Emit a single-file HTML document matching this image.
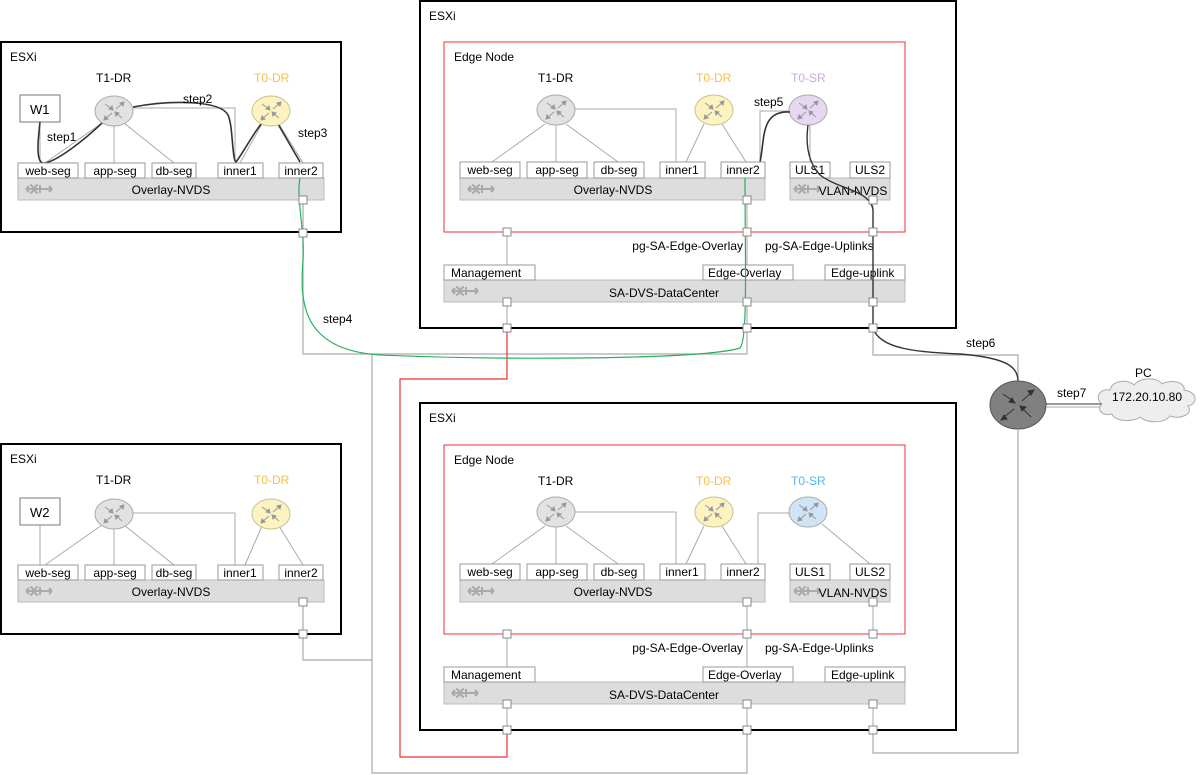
<!DOCTYPE html>
<html><head><meta charset="utf-8"><style>
html,body{margin:0;padding:0;background:#fff;}
svg{display:block;font-family:"Liberation Sans",sans-serif;font-size:12px;}
</style></head><body>
<svg width="1200" height="775" viewBox="0 0 1200 775" xmlns="http://www.w3.org/2000/svg">
<defs>
<g id="arr" stroke="#999" stroke-width="1" fill="#999">
<line x1="-9" y1="-7" x2="-2" y2="-2"/><polygon points="-1,-1 -5,-2 -2,-5"/>
<line x1="2" y1="-2" x2="9" y2="-8"/><polygon points="10,-9 6,-8 9,-5"/>
<line x1="2" y1="2" x2="8" y2="7"/><polygon points="1,1 5,2 2,5"/>
<line x1="-2" y1="2" x2="-9" y2="8"/><polygon points="-10,9 -6,8 -9,5"/>
</g>
<g id="rg"><ellipse rx="19" ry="15" fill="#e2e2e2" stroke="#aaa"/><use href="#arr"/></g>
<g id="ry"><ellipse rx="19" ry="15" fill="#fdf3c0" stroke="#c8c090"/><use href="#arr"/></g>
<g id="rp"><ellipse rx="19" ry="15" fill="#e6d8f2" stroke="#aaa"/><use href="#arr"/></g>
<g id="rb"><ellipse rx="19" ry="15" fill="#cfe4f7" stroke="#aaa"/><use href="#arr"/></g>
<g id="sw" stroke="#aaa" stroke-width="2" fill="none"><path d="M4,0 H18 M4,0 l3,-3 M4,0 l3,3 M8,-4 C12,-4 12,4 16,4 M8,4 C12,4 12,-4 16,-4 M18,-4 v8 M30,0 H16 M30,0 l-3,-3 M30,0 l-3,3"/></g>
<rect id="pt" x="-4" y="-4" width="8" height="8" fill="#fff" stroke="#888"/>
</defs>

<!-- ===== top-left ESXi ===== -->
<g>
<rect x="1" y="42" width="340" height="190" fill="#fff" stroke="#000" stroke-width="2"/>
<text x="10" y="61">ESXi</text>
<text x="96" y="82">T1-DR</text><text x="254" y="82" fill="#f5c242">T0-DR</text>
<rect x="20" y="95" width="40" height="27" fill="#fff" stroke="#777"/><text x="30" y="114" font-size="13">W1</text>
<g stroke="#aaa" fill="none">
<line x1="40" y1="122" x2="40" y2="163"/>
<path d="M102,123 L45,163 M114,126 V163 M124,123 L174,163 M133,108 H235 V163 M262,124 L240,163 M279,124 L303,163"/>
</g>
<g stroke="#333" stroke-width="1.6" fill="none">
<path d="M40,122 C38,140 35,165 45,163 C60,160 90,135 104,121"/>
<path d="M133,107 C170,100 220,100 228,115 C233,125 232,160 236,162 C245,150 255,130 263,122"/>
<path d="M278,124 L300,162"/>
</g>
<use href="#rg" x="114" y="111"/><use href="#ry" x="271" y="111"/>
<text x="183" y="103">step2</text><text x="47" y="141">step1</text><text x="298" y="137">step3</text>
<rect x="18" y="178" width="306" height="22" fill="#ddd" stroke="#bbb"/>
<use href="#sw" x="22" y="189"/>
<text x="171" y="194" text-anchor="middle">Overlay-NVDS</text>
<g fill="#fff" stroke="#999">
<rect x="18" y="163" width="60" height="15"/><rect x="85" y="163" width="60" height="15"/><rect x="152" y="163" width="44" height="15"/><rect x="218" y="163" width="45" height="15"/><rect x="279" y="163" width="44" height="15"/>
</g>
<text x="48" y="175" text-anchor="middle">web-seg</text><text x="115" y="175" text-anchor="middle">app-seg</text><text x="174" y="175" text-anchor="middle">db-seg</text><text x="240" y="175" text-anchor="middle">inner1</text><text x="301" y="175" text-anchor="middle">inner2</text>
</g>

<!-- ===== bottom-left ESXi ===== -->
<g>
<rect x="1" y="444" width="340" height="190" fill="#fff" stroke="#000" stroke-width="2"/>
<text x="10" y="463">ESXi</text>
<text x="96" y="484">T1-DR</text><text x="254" y="484" fill="#f5c242">T0-DR</text>
<rect x="20" y="498" width="40" height="27" fill="#fff" stroke="#777"/><text x="30" y="517" font-size="13">W2</text>
<g stroke="#aaa" fill="none">
<path d="M40,525 V565 M102,525 L45,565 M114,528 V565 M124,525 L174,565 M133,513 H235 V565 M262,526 L245,565 M279,526 L303,565"/>
</g>
<use href="#rg" x="114" y="514"/><use href="#ry" x="271" y="514"/>
<rect x="18" y="580" width="306" height="22" fill="#ddd" stroke="#bbb"/>
<use href="#sw" x="22" y="591"/>
<text x="171" y="596" text-anchor="middle">Overlay-NVDS</text>
<g fill="#fff" stroke="#999">
<rect x="18" y="565" width="60" height="15"/><rect x="85" y="565" width="60" height="15"/><rect x="152" y="565" width="44" height="15"/><rect x="218" y="565" width="45" height="15"/><rect x="279" y="565" width="44" height="15"/>
</g>
<text x="48" y="577" text-anchor="middle">web-seg</text><text x="115" y="577" text-anchor="middle">app-seg</text><text x="174" y="577" text-anchor="middle">db-seg</text><text x="240" y="577" text-anchor="middle">inner1</text><text x="301" y="577" text-anchor="middle">inner2</text>
</g>

<!-- ===== top ESXi (edge) ===== -->
<g>
<rect x="420" y="1" width="536" height="327" fill="#fff" stroke="#000" stroke-width="2"/>
<text x="429" y="20">ESXi</text>
<rect x="444" y="42" width="461" height="190" fill="none" stroke="#f03030"/>
<text x="454" y="61">Edge Node</text>
<text x="538" y="82">T1-DR</text><text x="696" y="82" fill="#f5c242">T0-DR</text><text x="791" y="82" fill="#c8a8e6">T0-SR</text>
<g stroke="#aaa" fill="none">
<path d="M545,124 L492,162 M556,125 V162 M566,124 L618,162 M575,109 H676 V162 M704,124 L686,162 M722,124 L746,162 M760,162 V111 H790 M810,125 V162"/>
<path d="M507,232 V265 M747,232 V265 M747,200 V232 M873,200 V232"/>
</g>
<use href="#rg" x="556" y="110"/><use href="#ry" x="714" y="110"/><use href="#rp" x="808" y="110"/>
<path d="M760,162 C765,140 760,110 790,112" stroke="#333" stroke-width="1.6" fill="none"/>
<text x="754" y="106">step5</text>
<rect x="460" y="178" width="305" height="22" fill="#ddd" stroke="#bbb"/>
<use href="#sw" x="464" y="189"/>
<text x="613" y="194" text-anchor="middle">Overlay-NVDS</text>
<rect x="790" y="178" width="100" height="22" fill="#ddd" stroke="#bbb"/>
<use href="#sw" x="790" y="189"/>
<text x="853" y="195" text-anchor="middle">VLAN-NVDS</text>
<g fill="#fff" stroke="#999">
<rect x="460" y="162" width="60" height="16"/><rect x="527" y="162" width="60" height="16"/><rect x="594" y="162" width="50" height="16"/><rect x="660" y="162" width="45" height="16"/><rect x="721" y="162" width="44" height="16"/><rect x="790" y="162" width="40" height="16"/><rect x="850" y="162" width="40" height="16"/>
</g>
<text x="490" y="174" text-anchor="middle">web-seg</text><text x="557" y="174" text-anchor="middle">app-seg</text><text x="619" y="174" text-anchor="middle">db-seg</text><text x="682" y="174" text-anchor="middle">inner1</text><text x="743" y="174" text-anchor="middle">inner2</text><text x="810" y="174" text-anchor="middle">ULS1</text><text x="870" y="174" text-anchor="middle">ULS2</text>
<text x="743" y="250" text-anchor="end">pg-SA-Edge-Overlay</text><text x="765" y="250">pg-SA-Edge-Uplinks</text>
<rect x="444" y="280" width="461" height="22" fill="#ddd" stroke="#bbb"/>
<use href="#sw" x="448" y="291"/>
<text x="664" y="297" text-anchor="middle">SA-DVS-DataCenter</text>
<g fill="#fff" stroke="#999"><rect x="444" y="265" width="91" height="15"/><rect x="703" y="265" width="90" height="15"/><rect x="825" y="265" width="80" height="15"/></g>
<text x="451" y="277">Management</text><text x="708" y="277">Edge-Overlay</text><text x="831" y="277">Edge-uplink</text>
<g stroke="#aaa"><line x1="507" y1="302" x2="507" y2="328"/><line x1="747" y1="302" x2="747" y2="328"/><line x1="873" y1="302" x2="873" y2="328"/></g>
</g>

<!-- ===== bottom ESXi (edge) ===== -->
<g>
<rect x="420" y="403" width="536" height="327" fill="#fff" stroke="#000" stroke-width="2"/>
<text x="429" y="422">ESXi</text>
<rect x="444" y="445" width="461" height="189" fill="none" stroke="#f03030"/>
<text x="454" y="464">Edge Node</text>
<text x="538" y="485">T1-DR</text><text x="696" y="485" fill="#f5c242">T0-DR</text><text x="791" y="485" fill="#4cb8f0">T0-SR</text>
<g stroke="#aaa" fill="none">
<path d="M545,526 L492,564 M556,527 V564 M566,526 L618,564 M575,512 H676 V564 M704,526 L686,564 M722,526 L746,564 M758,564 V513 H790 M822,524 L870,564"/>
<path d="M507,634 V667 M747,634 V667 M747,602 V634 M873,602 V634"/>
</g>
<use href="#rg" x="556" y="512"/><use href="#ry" x="714" y="512"/><use href="#rb" x="808" y="512"/>
<rect x="460" y="580" width="305" height="22" fill="#ddd" stroke="#bbb"/>
<use href="#sw" x="464" y="591"/>
<text x="613" y="596" text-anchor="middle">Overlay-NVDS</text>
<rect x="790" y="580" width="100" height="22" fill="#ddd" stroke="#bbb"/>
<use href="#sw" x="790" y="591"/>
<text x="853" y="597" text-anchor="middle">VLAN-NVDS</text>
<g fill="#fff" stroke="#999">
<rect x="460" y="564" width="60" height="16"/><rect x="527" y="564" width="60" height="16"/><rect x="594" y="564" width="50" height="16"/><rect x="660" y="564" width="45" height="16"/><rect x="721" y="564" width="44" height="16"/><rect x="790" y="564" width="40" height="16"/><rect x="850" y="564" width="40" height="16"/>
</g>
<text x="490" y="576" text-anchor="middle">web-seg</text><text x="557" y="576" text-anchor="middle">app-seg</text><text x="619" y="576" text-anchor="middle">db-seg</text><text x="682" y="576" text-anchor="middle">inner1</text><text x="743" y="576" text-anchor="middle">inner2</text><text x="810" y="576" text-anchor="middle">ULS1</text><text x="870" y="576" text-anchor="middle">ULS2</text>
<text x="743" y="652" text-anchor="end">pg-SA-Edge-Overlay</text><text x="765" y="652">pg-SA-Edge-Uplinks</text>
<rect x="444" y="682" width="461" height="22" fill="#ddd" stroke="#bbb"/>
<use href="#sw" x="448" y="693"/>
<text x="664" y="699" text-anchor="middle">SA-DVS-DataCenter</text>
<g fill="#fff" stroke="#999"><rect x="444" y="667" width="91" height="15"/><rect x="703" y="667" width="90" height="15"/><rect x="825" y="667" width="80" height="15"/></g>
<text x="451" y="679">Management</text><text x="708" y="679">Edge-Overlay</text><text x="831" y="679">Edge-uplink</text>
<g stroke="#aaa"><line x1="507" y1="704" x2="507" y2="730"/><line x1="747" y1="704" x2="747" y2="730"/><line x1="873" y1="704" x2="873" y2="730"/></g>
</g>

<!-- ===== external connectors ===== -->
<g stroke="#aaa" fill="none" stroke-width="1.2">
<path d="M303,200 V354 H747 V328"/>
<path d="M372,354 V773 H747 V730"/>
<path d="M303,602 V660 H372"/>
<path d="M873,328 V355 H1018 V381"/>
<path d="M1018,430 V753 H873 V730"/>
</g>
<path d="M507,330 V379 H400 V757 H507 V730" stroke="#f03030" fill="none" stroke-width="1.2"/>
<path d="M300,178 C296,200 305,230 303,260 C300,300 300,350 380,355 C500,360 700,360 740,348 C748,340 745,260 745,178" stroke="#2ab060" fill="none" stroke-width="1.2"/>
<path d="M808,125 C806,140 806,160 820,175 C840,190 870,190 873,210 V328 C880,350 920,352 960,354 C1010,358 1018,368 1018,382" stroke="#333" fill="none" stroke-width="1.4"/>
<g fill="#fff" stroke="#888">
<use href="#pt" x="303" y="200"/><use href="#pt" x="303" y="233"/><use href="#pt" x="303" y="602"/><use href="#pt" x="303" y="634"/>
<use href="#pt" x="747" y="200"/><use href="#pt" x="873" y="200"/><use href="#pt" x="507" y="232"/><use href="#pt" x="747" y="232"/><use href="#pt" x="873" y="232"/>
<use href="#pt" x="507" y="302"/><use href="#pt" x="747" y="302"/><use href="#pt" x="873" y="302"/><use href="#pt" x="507" y="328"/><use href="#pt" x="747" y="328"/><use href="#pt" x="873" y="328"/>
<use href="#pt" x="747" y="602"/><use href="#pt" x="873" y="602"/><use href="#pt" x="507" y="634"/><use href="#pt" x="747" y="634"/><use href="#pt" x="873" y="634"/>
<use href="#pt" x="507" y="704"/><use href="#pt" x="747" y="704"/><use href="#pt" x="873" y="704"/><use href="#pt" x="507" y="730"/><use href="#pt" x="747" y="730"/><use href="#pt" x="873" y="730"/>
</g>
<text x="323" y="323">step4</text>
<text x="966" y="347">step6</text>

<!-- router -->
<ellipse cx="1018" cy="405" rx="28" ry="24" fill="#808080" stroke="#555"/>
<g stroke="#333" fill="#333">
<line x1="1003" y1="394" x2="1013" y2="401"/><polygon points="1015,403 1009,402 1012,398"/>
<line x1="1022" y1="401" x2="1032" y2="392"/><polygon points="1034,390 1028,391 1031,395"/>
<line x1="1023" y1="409" x2="1031" y2="417"/><polygon points="1020,406 1026,407 1022,411"/>
<line x1="1014" y1="409" x2="1003" y2="418"/><polygon points="1001,420 1007,419 1004,415"/>
</g>
<line x1="1046" y1="404" x2="1102" y2="404" stroke="#333"/><line x1="1046" y1="407" x2="1102" y2="407" stroke="#aaa"/>
<text x="1057" y="397">step7</text>
<text x="1135" y="377">PC</text>
<path d="M1102,404 C1094,398 1100,388 1110,390 C1112,380 1128,379 1134,385 C1140,377 1158,377 1162,384 C1170,379 1186,382 1184,390 C1198,392 1198,404 1188,406 C1194,414 1180,420 1170,416 C1164,424 1146,423 1140,417 C1132,423 1114,421 1112,414 C1102,416 1096,410 1102,404 Z" fill="#eee" stroke="#aaa"/>
<text x="1147" y="401" text-anchor="middle">172.20.10.80</text>
</svg>
</body></html>
